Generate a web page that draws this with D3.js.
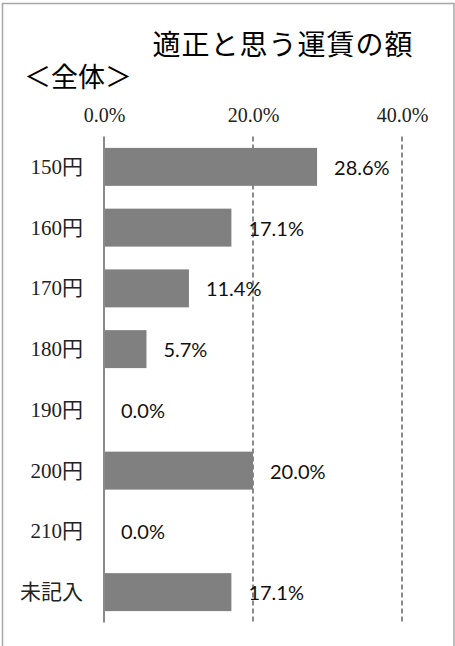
<!DOCTYPE html>
<html>
<head>
<meta charset="utf-8">
<script src="https://cdn.jsdelivr.net/npm/d3@7"></script>
<style>
  body { margin: 0; background: #fff; }
</style>
</head>
<body>
<script>
const categories = ["150円", "160円", "170円", "180円", "190円", "200円", "210円", "未記入"];
const values = [28.6, 17.1, 11.4, 5.7, 0.0, 20.0, 0.0, 17.1];
const tickValues = [0, 20, 40];

const title = "適正と思う運賃の額";
const subtitle = "＜全体＞";

// ---- layout ----
const width = 455, height = 646;
const svg = d3.select("body").append("svg")
    .attr("width", width)
    .attr("height", height);

// outer frame (runs past the bottom of the picture)
svg.append("rect")
    .attr("x", 2.5).attr("y", 3.5)
    .attr("width", 451.5).attr("height", 700)
    .attr("fill", "none")
    .attr("stroke", "#a6a6a6")
    .attr("stroke-width", 1.5);

const x = d3.scaleLinear().domain([0, 40]).range([104, 402]);
const y = d3.scaleBand().domain(categories)
    .range([136.5, 622.5])
    .paddingInner(0.375)
    .paddingOuter(0.1875);

// titles
svg.append("text")
    .attr("x", 283).attr("y", 43)
    .attr("text-anchor", "middle")
    .attr("dominant-baseline", "central")
    .style("font-family", "'Noto Sans CJK JP'")
    .style("font-size", "28px")
    .style("letter-spacing", "1px")
    .text(title);

svg.append("text")
    .attr("x", 24).attr("y", 75)
    .attr("dominant-baseline", "central")
    .style("font-family", "'Noto Sans CJK JP'")
    .style("font-size", "27px")
    .text(subtitle);

// gridlines
svg.append("g")
    .selectAll("line")
    .data(tickValues.filter(d => d > 0))
    .join("line")
    .attr("x1", d => x(d)).attr("x2", d => x(d))
    .attr("y1", y.range()[0]).attr("y2", y.range()[1])
    .attr("stroke", "#8a8a8a")
    .attr("stroke-width", 2)
    .attr("stroke-dasharray", "5,3");

// top axis labels
const xAxis = d3.axisTop(x).tickValues(tickValues)
    .tickFormat(d => d.toFixed(1) + "%")
    .tickSize(0).tickPadding(0);
const axG = svg.append("g")
    .attr("transform", "translate(0,115)")
    .call(xAxis);
axG.select(".domain").remove();
axG.selectAll("text")
    .attr("dy", null)
    .attr("dominant-baseline", "central")
    .style("font-family", "'Liberation Serif', serif")
    .style("font-size", "20px")
    .attr("fill", "#222");

// bars
svg.append("g")
    .selectAll("rect")
    .data(values)
    .join("rect")
    .attr("x", x(0))
    .attr("y", (d, i) => y(categories[i]))
    .attr("width", d => x(d) - x(0))
    .attr("height", y.bandwidth())
    .attr("fill", "#808080");

// zero line
svg.append("line")
    .attr("x1", x(0)).attr("x2", x(0))
    .attr("y1", y.range()[0]).attr("y2", y.range()[1])
    .attr("stroke", "#8a8a8a")
    .attr("stroke-width", 2);

// category labels
const yAxis = d3.axisLeft(y).tickSize(0).tickPadding(0);
const ayG = svg.append("g")
    .attr("transform", "translate(83,0)")
    .call(yAxis);
ayG.select(".domain").remove();
ayG.selectAll("text")
    .attr("dy", null)
    .attr("dominant-baseline", "central")
    .style("font-family", "'Liberation Serif', 'Noto Sans CJK JP', serif")
    .style("font-size", "21px")
    .attr("fill", "#222");

// value labels
svg.append("g")
    .selectAll("text")
    .data(values)
    .join("text")
    .attr("x", d => x(d) + 17)
    .attr("y", (d, i) => y(categories[i]) + y.bandwidth() / 2)
    .attr("dominant-baseline", "central")
    .style("font-family", "Lato, sans-serif")
    .style("font-size", "20px")
    .attr("fill", "#111")
    .text(d => d.toFixed(1) + "%");
</script>
</body>
</html>
